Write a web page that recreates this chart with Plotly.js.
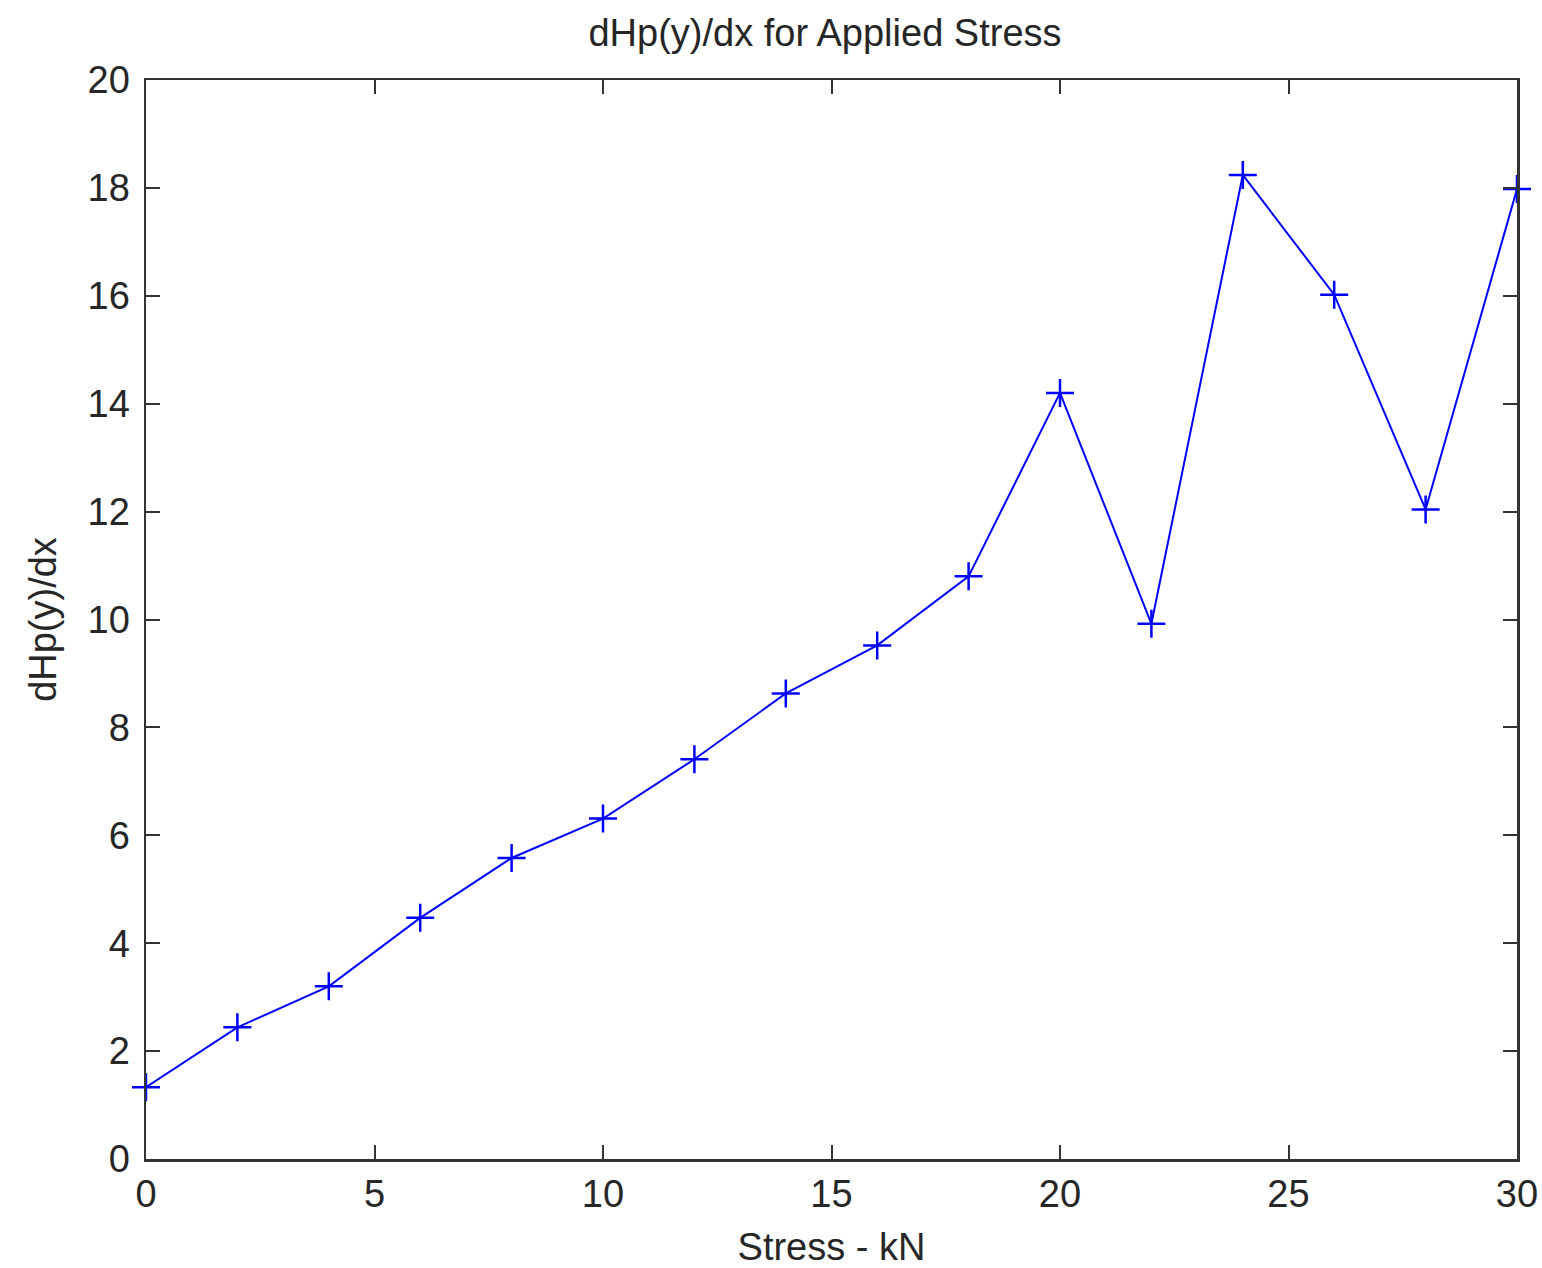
<!DOCTYPE html>
<html>
<head>
<meta charset="utf-8">
<script src="https://cdn.plot.ly/plotly-3.0.1.min.js"></script>
<style>html,body{margin:0;padding:0;background:#fff;}#chart{width:1542px;height:1268px;}</style>
</head>
<body>
<div id="chart"></div>
<script>
const stress = [0, 2, 4, 6, 8, 10, 12, 14, 16, 18, 20, 22, 24, 26, 28, 30];
const dHpdx = [1.33, 2.44, 3.2, 4.47, 5.58, 6.31, 7.41, 8.63, 9.52, 10.8, 14.2, 9.92, 18.24, 16.02, 12.04, 17.98];
const titleText = 'dHp(y)/dx for Applied Stress';
const xTitle = 'Stress - kN';
const yTitle = 'dHp(y)/dx';

const fontFam = 'Liberation Sans, Arial, Helvetica, sans-serif';
const txtColor = '#262626';

const trace = {
  x: stress,
  y: dHpdx,
  type: 'scatter',
  mode: 'lines+markers',
  line: {color: '#0000ff', width: 2},
  marker: {symbol: 'cross-thin', size: 20, color: '#0000ff', line: {color: '#0000ff', width: 2.5}},
  cliponaxis: false,
  hoverinfo: 'x+y'
};

const axisCommon = {
  showline: true, linecolor: '#333', linewidth: 2.5, mirror: 'ticks',
  ticks: 'inside', ticklen: 14, tickwidth: 2, tickcolor: '#333',
  showgrid: false, zeroline: false,
  tickfont: {family: fontFam, size: 38, color: txtColor}
};

const layout = {
  width: 1542, height: 1268,
  margin: {l: 146, r: 25, t: 80, b: 109},
  paper_bgcolor: '#fff', plot_bgcolor: '#fff',
  showlegend: false,
  title: {text: titleText, font: {family: fontFam, size: 38, color: txtColor}, x: 0.535, xanchor: 'center', y: 0.974, yanchor: 'middle'},
  xaxis: Object.assign({}, axisCommon, {range: [0, 30], dtick: 5, tick0: 0, ticklabelstandoff: 0,
    title: {text: xTitle, font: {family: fontFam, size: 38, color: txtColor}, standoff: 34}}),
  yaxis: Object.assign({}, axisCommon, {range: [0, 20], dtick: 2, tick0: 0, ticklabelstandoff: 6,
    title: {text: yTitle, font: {family: fontFam, size: 38, color: txtColor}, standoff: 20}})
};

Plotly.newPlot('chart', [trace], layout, {displayModeBar: false, staticPlot: true});
</script>
</body>
</html>
